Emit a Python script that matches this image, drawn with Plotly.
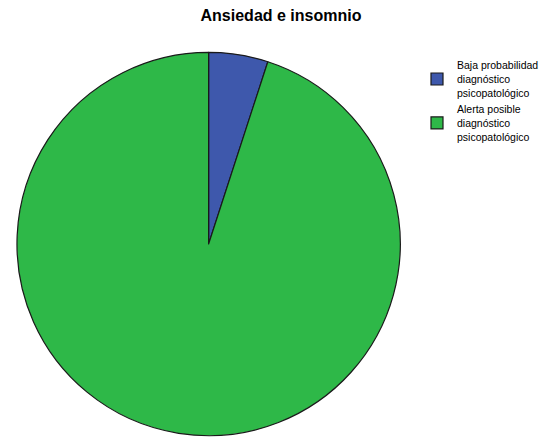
import plotly.graph_objects as go

# Categorías y frecuencias
categorias = [
    "Baja probabilidad<br>diagnóstico<br>psicopatológico",
    "Alerta posible<br>diagnóstico<br>psicopatológico",
]
frecuencias = [1, 19]
colores = ["#3E58AC", "#2EB848"]

W, H = 544, 437

fig = go.Figure(
    go.Pie(
        labels=categorias,
        values=frecuencias,
        marker=dict(colors=colores, line=dict(color="#1a1a1a", width=1.2)),
        sort=False,
        direction="clockwise",
        rotation=0,
        textinfo="none",
        hoverinfo="label+percent",
        domain=dict(x=[17 / W, 401 / W], y=[1 / H, 385 / H]),
    )
)

fig.update_layout(
    width=W,
    height=H,
    margin=dict(l=0, r=0, t=0, b=0),
    paper_bgcolor="white",
    plot_bgcolor="white",
    font=dict(family="Liberation Sans, Arial, sans-serif", color="#000000"),
    title=dict(
        text="<b>Ansiedad e insomnio</b>",
        x=281 / W,
        xanchor="center",
        y=1 - 15 / H,
        yanchor="middle",
        font=dict(size=16, color="#000000"),
    ),
    legend=dict(
        x=418 / W,
        xanchor="left",
        y=1 - 52 / H,
        yanchor="top",
        font=dict(size=10.5, color="#000000"),
        bgcolor="rgba(0,0,0,0)",
        tracegroupgap=0,
    ),
    showlegend=True,
)

fig.write_html("out.html")
